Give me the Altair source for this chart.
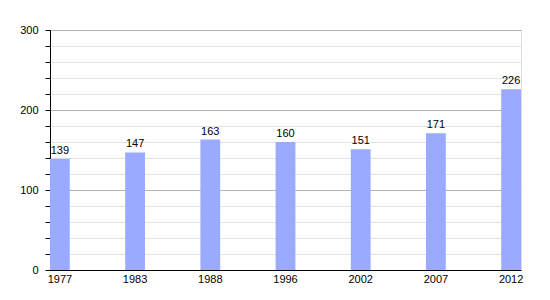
import altair as alt
import pandas as pd

years = ["1977", "1983", "1988", "1996", "2002", "2007", "2012"]
values = [139, 147, 163, 160, 151, 171, 226]
y_ticks = list(range(0, 301, 20))

df = pd.DataFrame({"year": years, "value": values})

x = alt.X("year:N", sort=years,
          scale=alt.Scale(paddingInner=0.737, paddingOuter=0),
          axis=alt.Axis(title=None, labelAngle=0, ticks=False, domainColor="#000000",
                        labelFont="Liberation Sans", labelFontSize=11, labelColor="#000000",
                        labelPadding=3, grid=False))

y = alt.Y("value:Q", scale=alt.Scale(domain=[0, 300], nice=False),
          axis=alt.Axis(title=None, values=y_ticks, tickCount=40,
                        labelExpr="datum.value % 100 === 0 ? datum.label : ''",
                        labelOverlap=False,
                        grid=True,
                        gridColor={"condition": {"test": "datum.value % 100 === 0", "value": "#b4b4b4"}, "value": "#e2e2e2"},
                        domainColor="#000000", tickColor="#000000", tickSize=5,
                        labelFont="Liberation Sans", labelFontSize=11, labelColor="#000000",
                        labelPadding=7))

base = alt.Chart(df).encode(x=x, y=y)
bars = base.mark_bar(color="#99aaff")
labels = base.mark_text(baseline="bottom", dy=-3, font="Liberation Sans", fontSize=11,
                        color="#000000").encode(text="value:Q")

chart = (bars + labels).properties(
    width=471, height=240,
    autosize=alt.AutoSizeParams(type="none"),
    padding={"left": 50, "top": 30, "right": 29, "bottom": 30},
).configure_view(stroke=None).configure(background="#ffffff")

chart.save("out.html", embed_options={"renderer": "svg", "actions": False})
